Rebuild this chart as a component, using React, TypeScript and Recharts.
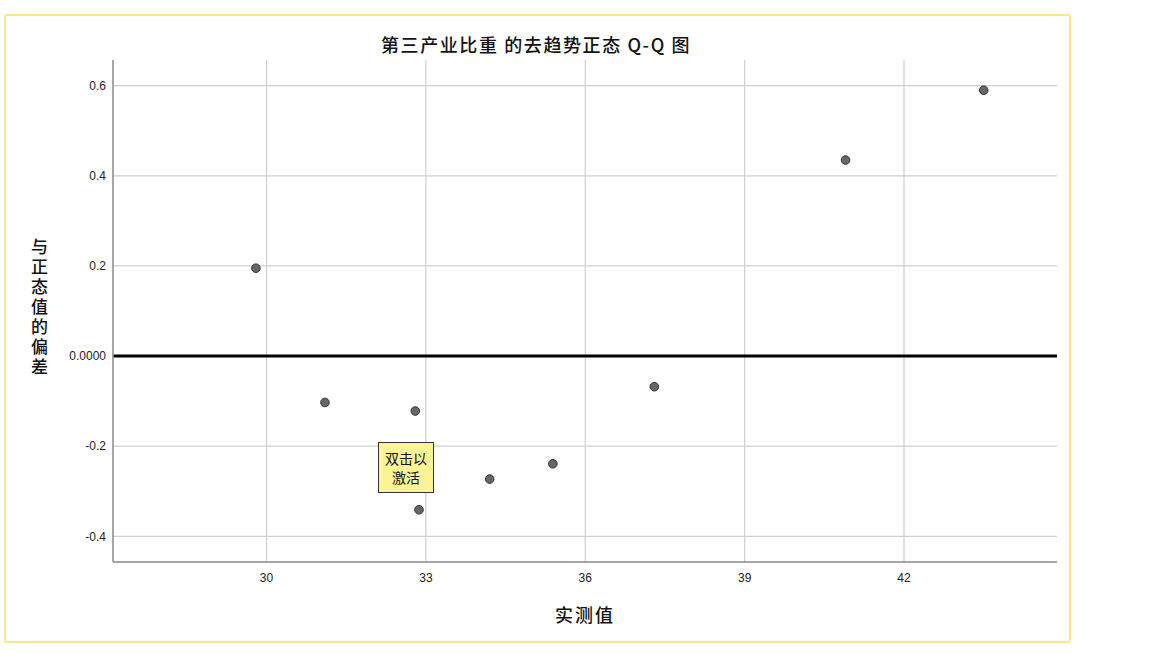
import React from 'react';
import {
  ScatterChart,
  Scatter,
  XAxis,
  YAxis,
  ReferenceLine,
} from 'recharts';

const observed = [29.8, 31.1, 32.8, 32.87, 34.2, 35.39, 37.3, 40.9, 43.5];
const deviation = [0.195, -0.103, -0.122, -0.341, -0.273, -0.239, -0.068, 0.435, 0.59];

const xTicks = [30, 33, 36, 39, 42];
const yTicks = [-0.4, -0.2, 0, 0.2, 0.4, 0.6];

const title = '第三产业比重 的去趋势正态 Q-Q 图';
const xLabel = '实测值';
const yLabel = '与正态值的偏差';
const hint = ['双击以', '激活'];

const points = observed.map((x, i) => ({ x, y: deviation[i] }));

const tickFont = { fill: '#222', fontSize: 12, fontFamily: 'Liberation Sans, Arial, sans-serif' };
const cjk = '"Noto Sans CJK SC", sans-serif';
const gridColor = '#cfcfcf';

export default function App() {
  return (
    <div style={{ position: 'absolute', left: 0, top: 0, width: 1169, height: 653, background: '#fff' }}>
      <div
        style={{
          position: 'absolute',
          left: 4,
          top: 14,
          width: 1063,
          height: 625,
          border: '2px solid #ffe68c',
          borderRadius: 2,
        }}
      />
      <div
        style={{
          position: 'absolute',
          left: 0,
          top: 31,
          width: 1072,
          textAlign: 'center',
          fontFamily: cjk,
          fontSize: 18,
          fontWeight: 500,
          letterSpacing: 1.6,
          color: '#111',
          lineHeight: '26px',
        }}
      >
        {title}
      </div>
      <ScatterChart
        width={1169}
        height={653}
        margin={{ top: 60, right: 112, bottom: 0, left: 0 }}
        style={{ position: 'absolute', left: 0, top: 0 }}
      >
        <XAxis
          type="number"
          dataKey="x"
          domain={[27.11, 44.88]}
          ticks={xTicks}
          height={91}
          tick={tickFont}
          tickLine={false}
          tickSize={0}
          tickMargin={11}
          axisLine={{ stroke: '#8a8a8a', strokeWidth: 1.5 }}
        />
        <YAxis
          type="number"
          dataKey="y"
          domain={[-0.457, 0.657]}
          ticks={yTicks}
          width={113}
          tick={tickFont}
          tickLine={false}
          tickSize={0}
          tickMargin={7}
          tickFormatter={(v) => (v === 0 ? '0.0000' : String(v))}
          axisLine={{ stroke: '#8a8a8a', strokeWidth: 1.5 }}
        />
        {/* grid lines only at the tick values, no frame on top/right */}
        {xTicks.map((t) => (
          <ReferenceLine key={`gx-${t}`} x={t} stroke={gridColor} strokeWidth={1.2} />
        ))}
        {yTicks
          .filter((t) => t !== 0)
          .map((t) => (
            <ReferenceLine key={`gy-${t}`} y={t} stroke={gridColor} strokeWidth={1.2} />
          ))}
        <ReferenceLine y={0} stroke="#000" strokeWidth={3} />
        <Scatter
          data={points}
          fill="#666"
          stroke="#333"
          strokeWidth={1}
          isAnimationActive={false}
          shape={(p: any) => <circle cx={p.cx} cy={p.cy} r={4.3} fill="#666" stroke="#333" strokeWidth={1} />}
        />
      </ScatterChart>
      <div
        style={{
          position: 'absolute',
          left: 27,
          top: 238,
          width: 24,
          height: 145,
          writingMode: 'vertical-rl',
          textOrientation: 'upright',
          fontFamily: cjk,
          fontSize: 17,
          fontWeight: 500,
          lineHeight: '24px',
          letterSpacing: 3,
          color: '#111',
        }}
      >
        {yLabel}
      </div>
      <div
        style={{
          position: 'absolute',
          left: 535,
          top: 601,
          width: 100,
          textAlign: 'center',
          fontFamily: cjk,
          fontSize: 18,
          fontWeight: 500,
          letterSpacing: 2,
          lineHeight: '26px',
          color: '#111',
        }}
      >
        {xLabel}
      </div>
      <div
        style={{
          position: 'absolute',
          left: 378,
          top: 442,
          width: 56,
          height: 51,
          boxSizing: 'border-box',
          border: '1px solid #333',
          background: '#fbf497',
          fontFamily: cjk,
          fontSize: 14,
          lineHeight: '19px',
          textAlign: 'center',
          paddingTop: 6,
          color: '#111',
        }}
      >
        {hint.map((h) => (
          <div key={h}>{h}</div>
        ))}
      </div>
    </div>
  );
}
